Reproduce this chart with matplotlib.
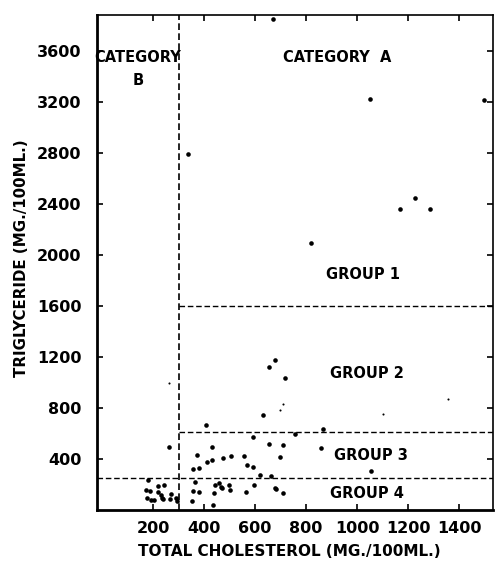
import matplotlib
matplotlib.use("Agg")
import matplotlib.pyplot as plt

# ---- data (cholesterol, triglyceride) ----
chol_a = [672, 1050, 1498, 337, 1228, 1169, 1285, 821, 678, 656, 716, 630,
          407, 868, 757, 590, 655, 708, 859, 431, 373, 697, 505, 558, 473,
          431, 413, 379, 358, 569, 592, 1055, 618, 663,
          366, 441, 460, 467, 472, 496, 500, 594, 358, 378, 437, 565, 352,
          434, 678, 683, 708]
trig_a = [3849, 3225, 3215, 2790, 2445, 2360, 2362, 2095, 1176, 1119, 1035, 750,
          669, 640, 596, 577, 520, 513, 490, 492, 432, 418, 421, 421, 407,
          390, 377, 332, 324, 356, 340, 308, 277, 268,
          220, 194, 214, 183, 175, 196, 157, 201, 151, 144, 136, 144, 76,
          42, 172, 163, 134]

chol_b = [264, 180, 218, 242, 173, 186, 221, 231, 270, 176, 190, 205, 236,
          240, 265, 288, 293]
trig_b = [496, 238, 190, 194, 162, 151, 140, 118, 128, 95, 80, 80, 98,
          86, 88, 92, 74]

# faint specks
chol_faint = [711, 696, 1103, 1355, 262]
trig_faint = [831, 789, 758, 870, 1000]

x_ticks = [200, 400, 600, 800, 1000, 1200, 1400]
y_ticks = [400, 800, 1200, 1600, 2000, 2400, 2800, 3200, 3600]

cat_limit = 300
group_limits = [1600, 612, 252]

plt.rcParams["font.family"] = "DejaVu Sans"
plt.rcParams["font.weight"] = "bold"

fig = plt.figure(figsize=(4.95, 5.65), dpi=100)
ax = fig.add_axes([0.196, 0.097, 0.800, 0.876])

ax.plot(chol_a, trig_a, "o", color="black", ms=3.3, mew=0)
ax.plot(chol_b, trig_b, "o", color="black", ms=3.3, mew=0)
ax.plot(chol_faint, trig_faint, "o", color="black", ms=1.5, mew=0)

ax.set_xlim(-20, 1533)
ax.set_ylim(0, 3880)

# boundaries
dash = (0, (4, 2))
ax.axvline(cat_limit, color="black", lw=1.2, ls=dash)
ax.plot([cat_limit, 1533], [group_limits[0]] * 2, color="black", lw=1.0, ls=dash)
ax.plot([cat_limit, 1533], [group_limits[1]] * 2, color="black", lw=1.0, ls=dash)
ax.plot([-20, 1533], [group_limits[2]] * 2, color="black", lw=1.0, ls=dash)

ax.text(920, 3545, "CATEGORY  A", ha="center", va="center", fontsize=10.5, fontweight="bold")
ax.text(140, 3545, "CATEGORY", ha="center", va="center", fontsize=10.5, fontweight="bold")
ax.text(140, 3370, "B", ha="center", va="center", fontsize=10.5, fontweight="bold")
ax.text(1022, 1850, "GROUP 1", ha="center", va="center", fontsize=10.5, fontweight="bold")
ax.text(1037, 1075, "GROUP 2", ha="center", va="center", fontsize=10.5, fontweight="bold")
ax.text(1053, 430, "GROUP 3", ha="center", va="center", fontsize=10.5, fontweight="bold")
ax.text(1040, 133, "GROUP 4", ha="center", va="center", fontsize=10.5, fontweight="bold")

ax.set_xticks(x_ticks)
ax.set_yticks(y_ticks)
ax.tick_params(direction="in", top=True, right=True, length=4, width=1.2,
               labelsize=11.5)
ax.tick_params(axis="y", pad=11)
ax.tick_params(axis="x", pad=8)
for lab in ax.get_xticklabels() + ax.get_yticklabels():
    lab.set_fontweight("bold")

ax.spines["left"].set_linewidth(2)
ax.spines["bottom"].set_linewidth(2)
ax.spines["top"].set_linewidth(1.2)
ax.spines["right"].set_linewidth(1.2)

ax.set_xlabel("TOTAL CHOLESTEROL (MG./100ML.)", fontsize=11, fontweight="bold")
ax.xaxis.set_label_coords(0.485, -0.068)
ax.set_ylabel("TRIGLYCERIDE (MG./100ML.)", fontsize=10.8, fontweight="bold")
ax.yaxis.set_label_coords(-0.172, 0.51)

fig.savefig("out.png", dpi=100)
